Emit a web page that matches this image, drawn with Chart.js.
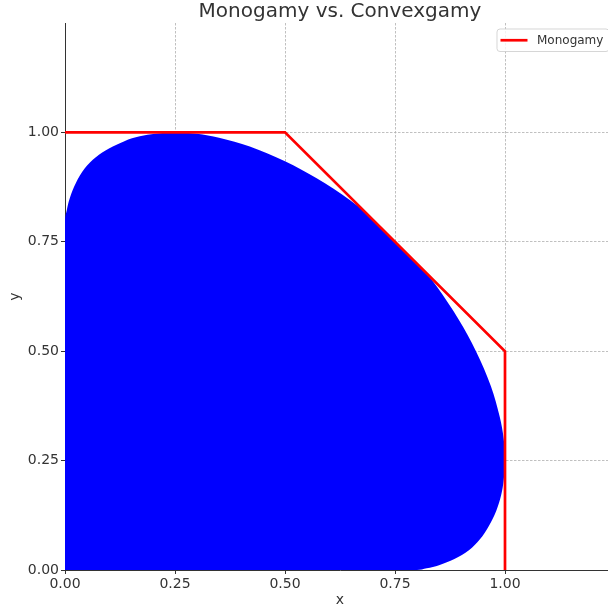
<!DOCTYPE html>
<html><head><meta charset="utf-8">
<script src="https://cdn.jsdelivr.net/npm/chart.js@4/dist/chart.umd.min.js"></script>
<style>html,body{margin:0;padding:0;overflow:hidden;background:#fff;width:608px;height:613px}</style>
</head><body>
<canvas id="c" width="680" height="613" style="width:680px;height:613px;display:block"></canvas>
<script>
// Convexgamy region boundary, closed outline
const convexX = [0.000, 0.000, 0.004, 0.011, 0.025, 0.045, 0.070, 0.100, 0.135, 0.170, 0.205, 0.250, 0.300, 0.350, 0.420, 0.500, 0.572, 0.648, 0.685, 0.750, 0.815, 0.845, 0.895, 0.934, 0.968, 0.988, 0.997, 1.000, 0.997, 0.991, 0.980, 0.963, 0.943, 0.918, 0.885, 0.850, 0.822, 0.800, 0.000];
const convexY = [0.000, 0.800, 0.822, 0.850, 0.885, 0.918, 0.943, 0.963, 0.980, 0.991, 0.997, 1.000, 0.997, 0.988, 0.968, 0.934, 0.895, 0.845, 0.815, 0.750, 0.685, 0.648, 0.572, 0.500, 0.420, 0.350, 0.300, 0.250, 0.205, 0.170, 0.135, 0.100, 0.070, 0.045, 0.025, 0.011, 0.004, 0.000, 0.000];
// Monogamy boundary
const monogamyX = [0, 0.5, 1.0, 1.0];
const monogamyY = [1.0, 1.0, 0.5, 0];
const tickValues = [0, 0.25, 0.5, 0.75, 1.0];
const axisMax = 1.25;
const titleText = 'Monogamy vs. Convexgamy';
const legendLabel = 'Monogamy';

const FONT = '"DejaVu Sans", "Liberation Sans", sans-serif';
const convexPts = convexX.map((x, i) => ({x, y: convexY[i]}));
const monoPts = monogamyX.map((x, i) => ({x, y: monogamyY[i]}));

const legendPlugin = {
  id: 'mplLegend',
  afterDraw(chart) {
    const ctx = chart.ctx, a = chart.chartArea;
    ctx.save();
    ctx.font = '12px ' + FONT;
    const tw = ctx.measureText(legendLabel).width;
    const w = 3.5 + 27 + 9.5 + tw + 5.6;
    const h = 22.5;
    const right = a.right - 6, top = a.top + 6, left = right - w;
    ctx.beginPath();
    ctx.roundRect(left, top, w, h, 3);
    ctx.fillStyle = 'rgba(255,255,255,0.8)';
    ctx.fill();
    ctx.strokeStyle = 'rgba(204,204,204,0.8)';
    ctx.lineWidth = 1;
    ctx.stroke();
    const cy = top + h / 2;
    ctx.beginPath();
    ctx.moveTo(left + 3.5, cy);
    ctx.lineTo(left + 30.5, cy);
    ctx.strokeStyle = '#ff0000';
    ctx.lineWidth = 2.7;
    ctx.stroke();
    ctx.fillStyle = '#333';
    ctx.textBaseline = 'middle';
    ctx.textAlign = 'left';
    ctx.fillText(legendLabel, left + 40, cy + 0.5);
    ctx.restore();
  }
};

const scaleCommon = (title, fitFn) => ({
  type: 'linear', min: 0, max: axisMax, z: 1,
  afterBuildTicks: s => { s.ticks = tickValues.map(v => ({value: v})); },
  afterFit: fitFn,
  grid: { color: '#b0b0b0', lineWidth: 0.8, drawTicks: true, tickLength: 4, tickColor: '#333', tickWidth: 1, tickBorderDash: [] },
  border: { display: true, color: '#333', width: 1, dash: [2.5, 1.5] },
  ticks: { color: '#333', font: { size: 14, family: FONT }, padding: 2, callback: v => Number(v).toFixed(2), maxRotation: 0, autoSkip: false },
  title: { display: true, text: title, color: '#333', font: { size: 14, family: FONT } }
});

const xScale = scaleCommon('x', s => { s.height = 43; });
xScale.title.padding = { top: 0, bottom: 4 };
const yScale = scaleCommon('y', s => { s.width = 65; });
yScale.title.padding = { top: 7, bottom: 0 };
// invisible right-hand spacer axis so the figure (and title) extend symmetrically
const ySpacer = {
  type: 'linear', position: 'right', min: 0, max: axisMax, display: true,
  afterFit: s => { s.width = 65; },
  grid: { display: false, drawOnChartArea: false, drawTicks: false },
  border: { display: false },
  ticks: { display: false },
  title: { display: false }
};

new Chart(document.getElementById('c'), {
  type: 'scatter',
  data: {
    datasets: [
      { label: legendLabel, data: monoPts, showLine: true, borderColor: '#ff0000', borderWidth: 2.7, pointRadius: 0, fill: false, tension: 0, order: 0 },
      { label: 'Convexgamy', data: convexPts, showLine: true, borderColor: '#0000ff', borderWidth: 0, backgroundColor: '#0000ff', pointRadius: 0, fill: 'shape', tension: 0.35, order: 1 }
    ]
  },
  options: {
    responsive: false, animation: false,
    layout: { padding: 0 },
    plugins: {
      legend: { display: false },
      tooltip: { enabled: false },
      title: { display: true, text: titleText, color: '#333', font: { size: 20, family: FONT, weight: 'normal', lineHeight: 1.15 }, padding: { top: 0, bottom: 0 } }
    },
    scales: { x: xScale, y: yScale, ySpacer: ySpacer }
  },
  plugins: [legendPlugin]
});
</script>
</body></html>
